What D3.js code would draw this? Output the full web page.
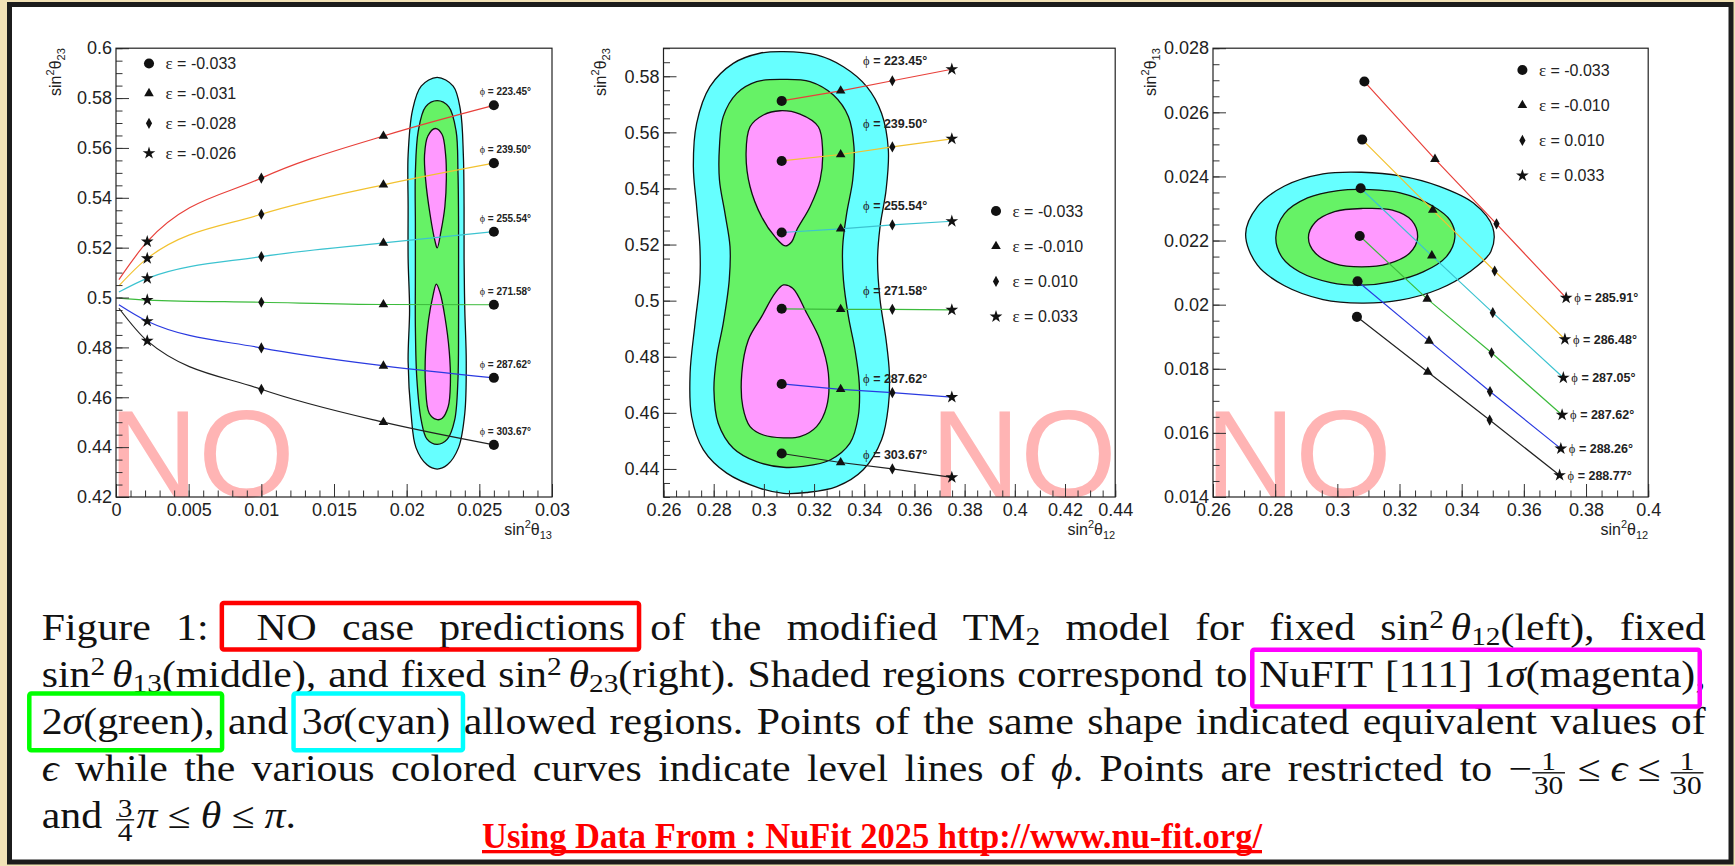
<!DOCTYPE html>
<html>
<head>
<meta charset="utf-8">
<script src="https://cdn.jsdelivr.net/npm/d3@7"></script>
<style>
  body { margin: 0; background: #f2e2b6; }
  svg { display: block; }
</style>
</head>
<body>
<svg id="fig"></svg>
<script>
// ---------------------------------------------------------------------------
// Data
// ---------------------------------------------------------------------------

const phiColors = ['#e8403a', '#f2c230', '#3cc3d0', '#3cbb3c', '#2a3ae0', '#222'];

// left: fixed sin^2 theta12, x = sin^2 theta13, y = sin^2 theta23
const epsLeft = ['-0.033', '-0.031', '-0.028', '-0.026'];
const phiLeft = ['223.45', '239.50', '255.54', '271.58', '287.62', '303.67'];
const startLeft = [[0.0002, 0.5072], [0.0002, 0.5047], [0.0002, 0.5022], [0.0002, 0.4998], [0.0002, 0.4971], [0.0002, 0.4957]];
// per phi line: [circle, triangle, diamond, star]
const pointsLeft = [
  [[0.0260, 0.5771], [0.0184, 0.5648], [0.0100, 0.5479], [0.00215, 0.5224]],
  [[0.0260, 0.5539], [0.0184, 0.5452], [0.0100, 0.5334], [0.00215, 0.5157]],
  [[0.0260, 0.5264], [0.0184, 0.5219], [0.0100, 0.5164], [0.00215, 0.5077]],
  [[0.0260, 0.4971], [0.0184, 0.4972], [0.0100, 0.4981], [0.00215, 0.4990]],
  [[0.0260, 0.4678], [0.0184, 0.4726], [0.0100, 0.4798], [0.00215, 0.4905]],
  [[0.0260, 0.4409], [0.0184, 0.4500], [0.0100, 0.4632], [0.00215, 0.4826]]
];
const sigma3Left = [[0.0221, 0.5883], [0.0232, 0.5848], [0.0237, 0.5751], [0.0239, 0.5572], [0.02395, 0.5365], [0.02395, 0.5157],
  [0.0240, 0.4950], [0.0241, 0.4743], [0.0240, 0.4536], [0.02357, 0.4398], [0.0228, 0.4329], [0.0221, 0.4312], [0.0214, 0.4329],
  [0.02064, 0.4398], [0.0203, 0.4536], [0.0201, 0.4743], [0.0202, 0.4950], [0.0201, 0.5157], [0.0201, 0.5365], [0.0201, 0.5572],
  [0.0204, 0.5751], [0.0210, 0.5848]];
const sigma2Left = [[0.0221, 0.5790], [0.0229, 0.5765], [0.0234, 0.5668], [0.02353, 0.5503], [0.02357, 0.5295], [0.02357, 0.5088],
  [0.02357, 0.4881], [0.02353, 0.4674], [0.0233, 0.4508], [0.0228, 0.4432], [0.0221, 0.4411], [0.0214, 0.4432], [0.0210, 0.4508],
  [0.0207, 0.4674], [0.0206, 0.4881], [0.0206, 0.5088], [0.0206, 0.5295], [0.0206, 0.5503], [0.0208, 0.5668], [0.0213, 0.5765]];
const sigma1LeftUp = [[0.02197, 0.5678], [0.02243, 0.5655], [0.02268, 0.5572], [0.02273, 0.5475], [0.02263, 0.5365], [0.02237, 0.5268],
  [0.0221, 0.5199], [0.02195, 0.5226], [0.0216, 0.5337], [0.0213, 0.5475], [0.02123, 0.5572], [0.02146, 0.5648]];
const sigma1LeftLow = [[0.02204, 0.5054], [0.0223, 0.5019], [0.02263, 0.4923], [0.02293, 0.4784], [0.02301, 0.4660], [0.02286, 0.4563],
  [0.02243, 0.4515], [0.02204, 0.4511], [0.02155, 0.4536], [0.0213, 0.4646], [0.0213, 0.4784], [0.0215, 0.4909], [0.0218, 0.5005]];

// middle: fixed sin^2 theta13, x = sin^2 theta12, y = sin^2 theta23
const epsMid = ['-0.033', '-0.010', '0.010', '0.033'];
const phiMid = ['223.45', '239.50', '255.54', '271.58', '287.62', '303.67'];
const phiMidLabelY = [0.5855, 0.5630, 0.5339, 0.5034, 0.4723, 0.4452];
const pointsMid = [
  [[0.3071, 0.5712], [0.3306, 0.5748], [0.3512, 0.5784], [0.3749, 0.5825]],
  [[0.3071, 0.5498], [0.3306, 0.5521], [0.3512, 0.5548], [0.3749, 0.5577]],
  [[0.3071, 0.5243], [0.3306, 0.5256], [0.3512, 0.5270], [0.3749, 0.5283]],
  [[0.3071, 0.4971], [0.3306, 0.4969], [0.3512, 0.4969], [0.3749, 0.4967]],
  [[0.3071, 0.4703], [0.3306, 0.4684], [0.3512, 0.4672], [0.3749, 0.4656]],
  [[0.3071, 0.4455], [0.3306, 0.4423], [0.3512, 0.4400], [0.3749, 0.4370]]
];
const sigma3Mid = [[0.3078, 0.5888], [0.3210, 0.5876], [0.3317, 0.5834], [0.3410, 0.5763], [0.3469, 0.5668], [0.3496, 0.5537],
  [0.3487, 0.5395], [0.3463, 0.5264], [0.3453, 0.5145], [0.3463, 0.5003], [0.3487, 0.4860], [0.3500, 0.4742], [0.3496, 0.4623],
  [0.3469, 0.4504], [0.3396, 0.4397], [0.3290, 0.4337], [0.3170, 0.4316], [0.3078, 0.4313], [0.2985, 0.4331], [0.2852, 0.4385],
  [0.2759, 0.4468], [0.2712, 0.4587], [0.2706, 0.4741], [0.2726, 0.4920], [0.2745, 0.5074], [0.2745, 0.5193], [0.2732, 0.5335],
  [0.2719, 0.5478], [0.2732, 0.5632], [0.2785, 0.5763], [0.2878, 0.5846], [0.2984, 0.5882]];
const sigma2Mid = [[0.3078, 0.5789], [0.3184, 0.5781], [0.3277, 0.5733], [0.3337, 0.5656], [0.3359, 0.5549], [0.3354, 0.5430],
  [0.3330, 0.5311], [0.3314, 0.5193], [0.3317, 0.5074], [0.3337, 0.4943], [0.3363, 0.4825], [0.3380, 0.4706], [0.3376, 0.4587],
  [0.3343, 0.4492], [0.3264, 0.4432], [0.3157, 0.4409], [0.3078, 0.4406], [0.2971, 0.4426], [0.2878, 0.4474], [0.2818, 0.4563],
  [0.2801, 0.4681], [0.2812, 0.4800], [0.2838, 0.4919], [0.2862, 0.5074], [0.2865, 0.5193], [0.2845, 0.5311], [0.2823, 0.5430],
  [0.2823, 0.5549], [0.2838, 0.5656], [0.2892, 0.5739], [0.2971, 0.5781]];
const sigma1MidUp = [[0.3065, 0.5677], [0.3144, 0.5665], [0.3217, 0.5620], [0.3234, 0.5537], [0.3224, 0.5430], [0.3184, 0.5335],
  [0.3131, 0.5252], [0.3111, 0.5210], [0.3085, 0.5195], [0.3044, 0.5228], [0.2991, 0.5299], [0.2945, 0.5406], [0.2929, 0.5525],
  [0.2945, 0.5620], [0.2998, 0.5662]];
const sigma1MidLow = [[0.3078, 0.5056], [0.3115, 0.5044], [0.3171, 0.4955], [0.3224, 0.4860], [0.3257, 0.4741], [0.3250, 0.4622],
  [0.3210, 0.4551], [0.3144, 0.4515], [0.3078, 0.4511], [0.2998, 0.4521], [0.2945, 0.4551], [0.2916, 0.4622], [0.2912, 0.4741],
  [0.2938, 0.4860], [0.2991, 0.4943], [0.3044, 0.5026]];

// right: fixed sin^2 theta23, x = sin^2 theta12, y = sin^2 theta13
const epsRight = ['-0.033', '-0.010', '0.010', '0.033'];
const phiRight = ['285.91', '286.48', '287.05', '287.62', '288.26', '288.77'];
const pointsRight = [
  [[0.3087, 0.02696], [0.3314, 0.02454], [0.3512, 0.02252], [0.3736, 0.02021]],
  [[0.3080, 0.02515], [0.3307, 0.02295], [0.3506, 0.02105], [0.3732, 0.01892]],
  [[0.3075, 0.02363], [0.3304, 0.02153], [0.3500, 0.01975], [0.3727, 0.01772]],
  [[0.3072, 0.02214], [0.3289, 0.02018], [0.3496, 0.01850], [0.3723, 0.01656]],
  [[0.3065, 0.02073], [0.3295, 0.01887], [0.3491, 0.01729], [0.3719, 0.01551]],
  [[0.3063, 0.01962], [0.3291, 0.01790], [0.3490, 0.01640], [0.3715, 0.01468]]
];
const sigma3Right = [[0.2705, 0.02220], [0.2743, 0.02306], [0.2830, 0.02370], [0.2954, 0.02408], [0.3078, 0.02413], [0.3202, 0.02402],
  [0.3326, 0.02370], [0.3438, 0.02317], [0.3500, 0.02241], [0.3494, 0.02166], [0.3425, 0.02102], [0.3326, 0.02048], [0.3202, 0.02014],
  [0.3078, 0.02005], [0.2954, 0.02016], [0.2830, 0.02059], [0.2743, 0.02123]];
const sigma2Right = [[0.2802, 0.02209], [0.2830, 0.02284], [0.2904, 0.02333], [0.3003, 0.02356], [0.3103, 0.02359], [0.3202, 0.02349],
  [0.3301, 0.02311], [0.3363, 0.02263], [0.3378, 0.02209], [0.3351, 0.02150], [0.3276, 0.02102], [0.3177, 0.02072], [0.3078, 0.02061],
  [0.2979, 0.02069], [0.2879, 0.02102], [0.2824, 0.02145]];
const sigma1Right = [[0.2907, 0.02209], [0.2929, 0.02257], [0.2991, 0.02290], [0.3078, 0.02300], [0.3177, 0.02295], [0.3239, 0.02263],
  [0.3258, 0.02209], [0.3233, 0.02161], [0.3165, 0.02128], [0.3078, 0.02118], [0.2991, 0.02128], [0.2929, 0.02161]];

// axis ticks
const xTicksLeft = [0, 0.005, 0.01, 0.015, 0.02, 0.025, 0.03];
const yTicksLeft = [0.42, 0.44, 0.46, 0.48, 0.5, 0.52, 0.54, 0.56, 0.58, 0.6];
const xTicksMid = [0.26, 0.28, 0.3, 0.32, 0.34, 0.36, 0.38, 0.4, 0.42, 0.44];
const yTicksMid = [0.44, 0.46, 0.48, 0.5, 0.52, 0.54, 0.56, 0.58];
const xTicksRight = [0.26, 0.28, 0.3, 0.32, 0.34, 0.36, 0.38, 0.4];
const yTicksRight = [0.014, 0.016, 0.018, 0.02, 0.022, 0.024, 0.026, 0.028];

// caption ("|r" etc. = boxed word, "+" = no space before, "\q" = leading gap)
const captionLines = [
  ['Figure', '1:', '\\qNO|r', 'case|r', 'predictions|r', 'of', 'the', 'modified', 'TM_{2}', 'model', 'for', 'fixed', 'sin^{2}\\,θ_{12}(left),', 'fixed'],
  ['sin^{2}\\,θ_{13}(middle),', 'and', 'fixed', 'sin^{2}\\,θ_{23}(right).', 'Shaded', 'regions', 'correspond', 'to', 'NuFIT|m', '[111]|m', '1σ(magenta)|m', '+,'],
  ['2σ(green),|g', 'and', '3σ(cyan)|c', 'allowed', 'regions.', 'Points', 'of', 'the', 'same', 'shape', 'indicated', 'equivalent', 'values', 'of'],
  ['ϵ', 'while', 'the', 'various', 'colored', 'curves', 'indicate', 'level', 'lines', 'of', 'ϕ.', 'Points', 'are', 'restricted', 'to', '−\\frac{1}{30}\\;≤\\;ϵ\\;≤\\;\\frac{1}{30}'],
  ['and', '\\frac{3}{4}π\\;≤\\;θ\\;≤\\;π.']
];
const sourceNote = 'Using Data From : NuFit 2025 http://www.nu-fit.org/';

// ---------------------------------------------------------------------------
// Page
// ---------------------------------------------------------------------------

const W = 1735, H = 866;
const SANS = '"Liberation Sans", Arial, Helvetica, sans-serif';
const SERIF = '"Liberation Serif", "DejaVu Serif", serif';

const svg = d3.select('#fig').attr('width', W).attr('height', H).attr('viewBox', [0, 0, W, H]);

svg.append('rect').attr('width', W).attr('height', H).attr('fill', '#f2e2b6');
svg.append('rect').attr('x', 9.5).attr('y', 4.5).attr('width', 1721.5).attr('height', 857.5)
  .attr('fill', '#fff').attr('stroke', '#1c1c1c').attr('stroke-width', 5);

// markers: circle, triangle, thin diamond, star
const markerPaths = [
  d3.symbol().type(d3.symbolCircle).size(80)(),
  d3.symbol().type(d3.symbolTriangle).size(40)(),
  'M0,-5.6L3.1,0L0,5.6L-3.1,0Z',
  d3.symbol().type(d3.symbolStar).size(50)()
];

function fmt(d) { return String(+d.toFixed(4)); }

function drawPanel(p) {
  const [fl, ft, fr, fb] = p.frame;
  const g = svg.append('g');
  const x = d3.scaleLinear().domain(p.xDomain).range([fl, fr]);
  const y = d3.scaleLinear().domain(p.yDomain).range([fb, ft]);

  // watermark
  g.append('text').attr('x', p.noX).attr('y', fb - 0.5)
    .attr('font-family', SANS).attr('font-size', 124).attr('fill', '#ffb4b4').text('NO');

  // allowed regions
  const closed = d3.line().x(d => x(d[0])).y(d => y(d[1])).curve(d3.curveCatmullRomClosed.alpha(0.5));
  p.regions.forEach(r => {
    g.append('path').attr('d', closed(r.pts)).attr('fill', r.fill)
      .attr('stroke', '#111').attr('stroke-width', 1.3);
  });

  // phi level lines
  const line = d3.line().x(d => x(d[0])).y(d => y(d[1])).curve(p.curve);
  p.points.forEach((pts, i) => {
    const seq = (p.starts ? [p.starts[i]] : []).concat(pts.slice().reverse());
    g.append('path').attr('d', line(seq)).attr('fill', 'none')
      .attr('stroke', phiColors[i]).attr('stroke-width', 1.2);
  });

  // points
  p.points.forEach(pts => pts.forEach((d, k) => {
    g.append('path').attr('transform', `translate(${x(d[0])},${y(d[1])})`)
      .attr('d', markerPaths[k]).attr('fill', '#111');
  }));

  // axes (ROOT style: ticks inward, bottom and left only)
  const styleAxis = a => {
    a.select('.domain').remove();
    a.selectAll('line').attr('stroke', '#333');
    a.selectAll('text').attr('font-family', SANS).attr('font-size', 18).attr('fill', '#222');
  };
  g.append('g').attr('transform', `translate(0,${fb})`)
    .call(d3.axisBottom(x).tickValues(p.xMinor).tickSize(-6.5).tickFormat('')).call(styleAxis);
  g.append('g').attr('transform', `translate(0,${fb})`)
    .call(d3.axisBottom(x).tickValues(p.xTicks).tickSize(-13).tickPadding(6).tickFormat(fmt)).call(styleAxis);
  g.append('g').attr('transform', `translate(${fl},0)`)
    .call(d3.axisLeft(y).tickValues(p.yMinor).tickSize(-6.5).tickFormat('')).call(styleAxis);
  g.append('g').attr('transform', `translate(${fl},0)`)
    .call(d3.axisLeft(y).tickValues(p.yTicks).tickSize(-13).tickPadding(4).tickFormat(fmt)).call(styleAxis);

  g.append('rect').attr('x', fl).attr('y', ft).attr('width', fr - fl).attr('height', fb - ft)
    .attr('fill', 'none').attr('stroke', '#222').attr('stroke-width', 1.2);

  // axis titles
  const title = (sel, sub) => {
    sel.attr('font-family', SANS).attr('font-size', 16).attr('fill', '#222').attr('text-anchor', 'end');
    sel.append('tspan').text('sin');
    sel.append('tspan').attr('font-size', 11).attr('dy', -7).text('2');
    sel.append('tspan').attr('dy', 7).text('θ');
    sel.append('tspan').attr('font-size', 11).attr('dy', 4).text(sub);
  };
  title(g.append('text').attr('x', fr).attr('y', 535), p.xSub);
  title(g.append('text').attr('transform', `translate(${p.yTitleX},${ft}) rotate(-90)`), p.ySub);

  // legend
  p.eps.forEach((e, k) => {
    const ly = p.legend.y0 + k * p.legend.dy;
    g.append('path').attr('transform', `translate(${p.legend.x},${ly})`).attr('d', markerPaths[k]).attr('fill', '#111');
    const t = g.append('text').attr('x', p.legend.x + 16.5).attr('y', ly).attr('dy', '0.35em')
      .attr('font-family', SANS).attr('font-size', 16).attr('fill', '#222');
    t.append('tspan').attr('font-family', SERIF).attr('font-size', 17).text('ε');
    t.append('tspan').text(' = ' + e);
  });

  // phi labels
  p.phi.forEach((ph, i) => {
    let lx, ly, anchor;
    if (p.labelMode === 'left') {
      const c = p.points[i][0];
      lx = 531; ly = y(c[1]) - 13.5; anchor = 'end';
    } else if (p.labelMode === 'mid') {
      lx = x(0.3523); ly = y(p.labelY[i]); anchor = 'middle';
    } else {
      const s = p.points[i][3];
      lx = x(s[0]) + 8; ly = y(s[1]); anchor = 'start';
    }
    const t = g.append('text').attr('x', lx).attr('y', ly).attr('dy', '0.35em').attr('text-anchor', anchor)
      .attr('font-family', SANS).attr('font-weight', 'bold').attr('font-size', p.labelSize).attr('fill', '#222');
    t.append('tspan').attr('font-family', SERIF).attr('font-weight', 'normal').text('ϕ');
    t.append('tspan').text(' = ' + ph + '°');
  });
}

drawPanel({
  frame: [116, 48.2, 552, 497], xDomain: [0, 0.03], yDomain: [0.42, 0.6],
  xTicks: xTicksLeft, yTicks: yTicksLeft,
  xMinor: d3.range(0, 0.03001, 0.001), yMinor: d3.range(0.42, 0.60001, 0.005),
  noX: 108.6, yTitleX: 61, xSub: '13', ySub: '23',
  regions: [{ pts: sigma3Left, fill: '#66ffff' }, { pts: sigma2Left, fill: '#66f266' },
            { pts: sigma1LeftUp, fill: '#ff99ff' }, { pts: sigma1LeftLow, fill: '#ff99ff' }],
  points: pointsLeft, starts: startLeft, curve: d3.curveMonotoneX,
  eps: epsLeft, legend: { x: 149, y0: 63.5, dy: 29.9 },
  phi: phiLeft, labelMode: 'left', labelSize: 10
});

drawPanel({
  frame: [663.5, 48.2, 1115.2, 497], xDomain: [0.26, 0.44], yDomain: [0.43, 0.59],
  xTicks: xTicksMid, yTicks: yTicksMid,
  xMinor: d3.range(0.26, 0.44001, 0.005), yMinor: d3.range(0.43, 0.59001, 0.005),
  noX: 930.6, yTitleX: 606, xSub: '12', ySub: '23',
  regions: [{ pts: sigma3Mid, fill: '#66ffff' }, { pts: sigma2Mid, fill: '#66f266' },
            { pts: sigma1MidUp, fill: '#ff99ff' }, { pts: sigma1MidLow, fill: '#ff99ff' }],
  points: pointsMid, curve: d3.curveLinear,
  eps: epsMid, legend: { x: 996, y0: 211, dy: 35.2 },
  phi: phiMid, labelMode: 'mid', labelY: phiMidLabelY, labelSize: 12.5
});

drawPanel({
  frame: [1213, 48.2, 1648.2, 497], xDomain: [0.26, 0.40], yDomain: [0.014, 0.028],
  xTicks: xTicksRight, yTicks: yTicksRight,
  xMinor: d3.range(0.26, 0.40001, 0.005), yMinor: d3.range(0.014, 0.028001, 0.0005),
  noX: 1205.6, yTitleX: 1156, xSub: '12', ySub: '13',
  regions: [{ pts: sigma3Right, fill: '#66ffff' }, { pts: sigma2Right, fill: '#66f266' },
            { pts: sigma1Right, fill: '#ff99ff' }],
  points: pointsRight, curve: d3.curveLinear,
  eps: epsRight, legend: { x: 1522.4, y0: 70, dy: 35.2 },
  phi: phiRight, labelMode: 'right', labelSize: 12.5
});

// ---------------------------------------------------------------------------
// Caption
// ---------------------------------------------------------------------------

const capSize = 37, capLeft = 41.7, capRight = 1705.7, capBase0 = 639.5, capStep = 47;
const capStretch = 1.13;   // Liberation Serif is narrower than Computer Modern
const GREEK = 'θσϵϕπ';
const boxStyle = {
  r: { color: '#ff0000', padL: 12, padR: 14, top: -36.6, bottom: 10 },
  m: { color: '#ff00ff', padL: 7, padR: 4.5, top: -36.7, bottom: 20 },
  g: { color: '#00ff00', padL: 12.4, padR: 7.7, top: -40, bottom: 16.7 },
  c: { color: '#00ffff', padL: 8.3, padR: 12.8, top: -40, bottom: 16.7 }
};

function parseToken(s) {
  const out = [];
  let i = 0;
  while (i < s.length) {
    if (s.startsWith('\\frac{', i)) {
      const a = s.indexOf('}', i), b = s.indexOf('}', a + 1);
      out.push({ frac: [s.slice(i + 6, a), s.slice(a + 2, b)] });
      i = b + 1;
    } else if (s.startsWith('_{', i) || s.startsWith('^{', i)) {
      const e = s.indexOf('}', i);
      out.push({ t: s.slice(i + 2, e), shift: s[i] === '_' ? 'sub' : 'sup' });
      i = e + 1;
    } else if (s.startsWith('\\,', i)) { out.push({ space: 6 }); i += 2; }
    else if (s.startsWith('\\;', i)) { out.push({ space: 9 }); i += 2; }
    else if (s.startsWith('\\q', i)) { out.push({ space: 20 }); i += 2; }
    else {
      const it = GREEK.includes(s[i]);
      const last = out[out.length - 1];
      if (last && last.t !== undefined && !last.shift && last.italic === it) last.t += s[i];
      else out.push({ t: s[i], italic: it });
      i++;
    }
  }
  return out;
}

const cap = svg.append('g').attr('font-family', SERIF).attr('fill', '#111');

function renderToken(pieces) {
  const g = cap.append('g');
  let cx = 0;
  pieces.forEach(pc => {
    if (pc.space) { cx += pc.space; return; }
    if (pc.frac) {
      const n = g.append('text').attr('font-size', 26).text(pc.frac[0]);
      const d = g.append('text').attr('font-size', 26).text(pc.frac[1]);
      const wn = n.node().getComputedTextLength(), wd = d.node().getComputedTextLength();
      const w = Math.max(wn, wd) + 3;
      n.attr('x', cx + (w - wn) / 2).attr('y', -11);
      d.attr('x', cx + (w - wd) / 2).attr('y', 13.5);
      g.append('rect').attr('x', cx).attr('y', -8.4).attr('width', w).attr('height', 1.4).attr('fill', '#111');
      cx += w + 2;
      return;
    }
    const t = g.append('text').attr('x', cx)
      .attr('y', pc.shift === 'sub' ? 5.5 : pc.shift === 'sup' ? -12 : 0)
      .attr('font-size', pc.shift ? 26 : capSize).text(pc.t);
    if (pc.italic) t.attr('font-style', 'italic');
    cx += t.node().getComputedTextLength();
  });
  return { g, w: cx };
}

const boxes = {};
captionLines.forEach((line, li) => {
  const base = capBase0 + li * capStep;
  const items = line.map(tok => {
    let s = tok, glue = false, box = null;
    if (s.startsWith('+')) { glue = true; s = s.slice(1); }
    const m = s.match(/\|(\w)$/);
    if (m) { box = m[1]; s = s.slice(0, -2); }
    return Object.assign(renderToken(parseToken(s)), { glue, box });
  });
  const total = d3.sum(items, d => d.w);
  const gaps = items.filter((d, i) => i > 0 && !d.glue).length;
  const justify = li < captionLines.length - 1;
  const sx = justify ? Math.min(capStretch, (capRight - capLeft - gaps * 9) / total) : capStretch;
  const gap = justify ? (capRight - capLeft - total * sx) / gaps : 14;
  let cx = capLeft;
  items.forEach((it, i) => {
    if (i > 0 && !it.glue) cx += gap;
    it.g.attr('transform', `translate(${cx},${base}) scale(${sx},1)`);
    if (it.box) {
      const b = boxes[it.box] || (boxes[it.box] = { min: cx, max: cx, base });
      b.min = Math.min(b.min, cx);
      b.max = Math.max(b.max, cx + it.w * sx);
    }
    cx += it.w * sx;
  });
});

Object.entries(boxes).forEach(([k, b]) => {
  const st = boxStyle[k];
  svg.append('rect')
    .attr('x', b.min - st.padL).attr('y', b.base + st.top)
    .attr('width', b.max - b.min + st.padL + st.padR).attr('height', st.bottom - st.top)
    .attr('rx', 2).attr('fill', 'none').attr('stroke', st.color).attr('stroke-width', 4.5);
});

// source note
svg.append('text').attr('x', 482).attr('y', 848)
  .attr('font-family', SERIF).attr('font-weight', 'bold').attr('font-size', 35).attr('fill', '#ff0000')
  .attr('textLength', 780).attr('lengthAdjust', 'spacingAndGlyphs').text(sourceNote);
svg.append('rect').attr('x', 482).attr('y', 850).attr('width', 780).attr('height', 3.3).attr('fill', '#ff0000');
</script>
</body>
</html>
